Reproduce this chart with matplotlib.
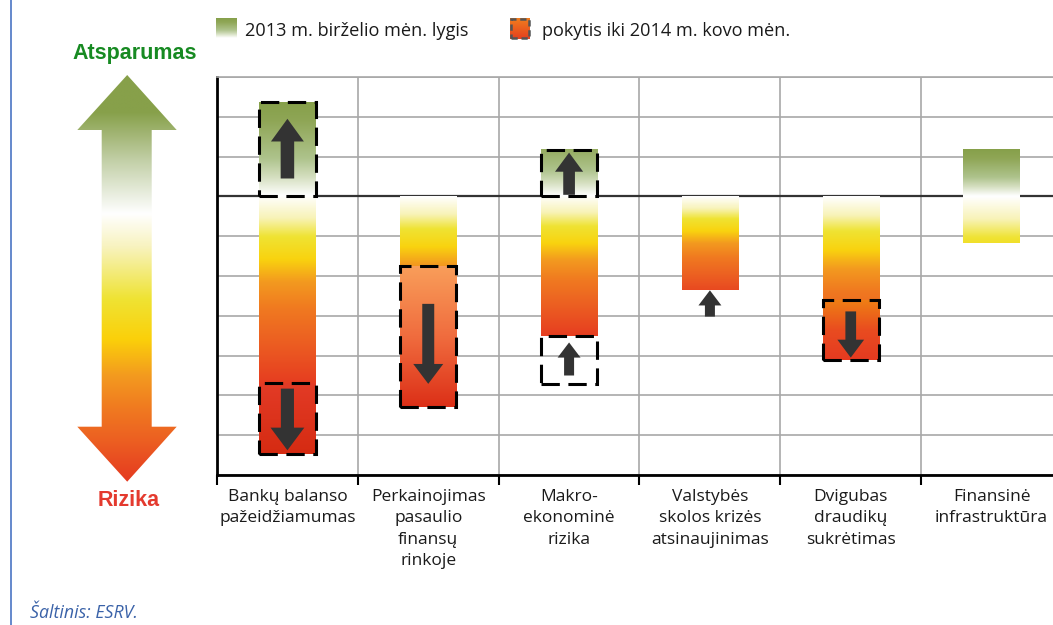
import numpy as np
import matplotlib
matplotlib.use("Agg")
import matplotlib.pyplot as plt
from matplotlib.colors import LinearSegmentedColormap
from matplotlib.patches import Rectangle, FancyArrow, Polygon
from matplotlib.lines import Line2D

# Categories and values (schematic units, 0 = neutral line)
categories = ["Bankų balanso\npažeidžiamumas",
              "Perkainojimas\npasaulio\nfinansų\nrinkoje",
              "Makro-\nekonominė\nrizika",
              "Valstybės\nskolos krizės\natsinaujinimas",
              "Dvigubas\ndraudikų\nsukrėtimas",
              "Finansinė\ninfrastruktūra"]

# 2013 m. birželio mėn. lygis
level_low = [-4.70, -1.75, -3.52, -2.35, -2.61, -1.17]
level_high = [0.0, 0.0, 0.0, 0.0, 0.0, 1.17]

# pokytis iki 2014 m. kovo mėn. (dashed boxes)
change_cat = [0, 0, 1, 2, 2, 4]
change_from = [0.0, -4.70, -1.75, 0.0, -3.52, -2.61]
change_to = [2.36, -6.46, -5.29, 1.17, -4.71, -4.10]

# direction arrows
arrow_cat = [0, 0, 1, 2, 2, 3, 4]
arrow_tail = [0.45, -4.83, -2.70, 0.04, -4.50, -3.02, -2.89]
arrow_tip = [1.95, -6.38, -4.71, 1.10, -3.67, -2.36, -4.05]

legend_labels = ["2013 m. birželio mėn. lygis", "pokytis iki 2014 m. kovo mėn."]

# ---- styles ----
W, H = 1053, 625
bar_w = 0.40
neg_cmap = LinearSegmentedColormap.from_list("neg", [
    (0.0, "#ffffff"), (0.12, "#f8f3b8"), (0.22, "#efe333"), (0.34, "#f9d30f"),
    (0.46, "#f39a1f"), (0.6, "#f07a20"), (0.78, "#ec5f22"), (1.0, "#e63d20")])
pos_cmap = LinearSegmentedColormap.from_list("pos", [
    (0.0, "#ffffff"), (0.2, "#d5dfc0"), (0.4, "#aec38c"), (0.8, "#8fa656"), (1.0, "#86a04a")])
# how far along the colour ramp each level bar goes at its bottom end
level_fade = [1.0, 0.47, 1.0, 0.92, 0.66, 0.25]
# fill of each change box: (cmap, value at top, value at bottom) or None
change_fill = [
    (pos_cmap, 1.0, 0.0),
    (LinearSegmentedColormap.from_list("c1", ["#e33b26", "#d52b12"]), 0.0, 1.0),
    (LinearSegmentedColormap.from_list("c2", ["#f99e5a", "#f06c3e", "#dc2f17"]), 0.0, 1.0),
    (pos_cmap, 0.72, 0.0),
    None,
    (LinearSegmentedColormap.from_list("c5", ["#ef7f14", "#e94c20", "#e53a20"]), 0.0, 1.0),
]
arrow_head_len = [0.57, 0.57, 0.50, 0.48, 0.38, 0.38, 0.45]
arrow_head_w = [0.234, 0.24, 0.213, 0.20, 0.163, 0.163, 0.19]
arrow_shaft_w = [0.096, 0.093, 0.085, 0.083, 0.071, 0.071, 0.076]

lab_font = ["Open Sans", "DejaVu Sans"]


def vgrad(ax, x0, x1, ybot, ytop, cmap, vbot, vtop, z):
    img = np.linspace(vbot, vtop, 256).reshape(-1, 1)
    return ax.imshow(img, extent=[x0, x1, ybot, ytop], origin="lower", cmap=cmap,
                     vmin=0, vmax=1, aspect="auto", interpolation="bilinear", zorder=z)


fig = plt.figure(figsize=(W / 100, H / 100), dpi=100)
ax = fig.add_axes([217 / W, 1 - 475 / H, 845 / W, 398 / H])

# level bars
for i, (lo, hi) in enumerate(zip(level_low, level_high)):
    x0, x1 = i + 0.5 - bar_w / 2, i + 0.5 + bar_w / 2
    vgrad(ax, x0, x1, lo, 0, neg_cmap, level_fade[i], 0.0, 2)
    if hi > 0:
        vgrad(ax, x0, x1, 0, hi, pos_cmap, 0.0, 1.0, 2)

# change boxes
for k, c in enumerate(change_cat):
    x0 = c + 0.5 - bar_w / 2
    top, bot = max(change_from[k], change_to[k]), min(change_from[k], change_to[k])
    if change_fill[k] is not None:
        cm, vt, vb = change_fill[k]
        vgrad(ax, x0, x0 + bar_w, bot, top, cm, vb, vt, 3)
    ax.add_patch(Rectangle((x0, bot), bar_w, top - bot, fill=False, ec="black",
                           lw=2.2, ls=(0, (6, 2.8)), zorder=4))

# arrows
for k, c in enumerate(arrow_cat):
    ax.add_patch(FancyArrow(c + 0.5, arrow_tail[k], 0, arrow_tip[k] - arrow_tail[k],
                            width=arrow_shaft_w[k], head_width=arrow_head_w[k],
                            head_length=arrow_head_len[k], length_includes_head=True,
                            color="#333333", lw=0, zorder=5))

ax.axhline(0, color="#333333", lw=1.6, zorder=1.5)
ax.set_xlim(0, 6)
ax.set_ylim(-7, 3)
ax.set_xticks(np.arange(7))
ax.set_xticklabels([])
ax.set_yticks(np.arange(-7, 4))
ax.set_yticklabels([])
ax.set_xticks(np.arange(6) + 0.5, minor=True)
ax.set_xticklabels(categories, minor=True, fontsize=12.5, family=lab_font,
                   color="#1a1a1a", linespacing=1.45)
ax.tick_params(axis="x", which="major", length=7, width=1.5, direction="out", color="black")
ax.tick_params(axis="x", which="minor", length=0, pad=10)
ax.tick_params(axis="y", length=0)
ax.grid(True, which="major", color="#a8a8a8", lw=1.2)
ax.set_axisbelow(True)
for s in ["left", "bottom"]:
    ax.spines[s].set_linewidth(2)
    ax.spines[s].set_color("black")
ax.spines["top"].set_color("#a8a8a8")
ax.spines["top"].set_linewidth(1.2)
ax.spines["right"].set_visible(False)

# big double arrow on the left
axl = fig.add_axes([60 / W, 1 - 500 / H, 140 / W, 440 / H])
axl.set_xlim(60, 200)
axl.set_ylim(500, 60)
axl.axis("off")
big_cmap = LinearSegmentedColormap.from_list("big", [
    (0.0, "#87a04a"), (0.09, "#87a04a"), (0.21, "#c3d0a8"), (0.34, "#ffffff"),
    (0.42, "#f8f3c0"), (0.55, "#efe333"), (0.65, "#fbd00a"), (0.74, "#f39a1f"),
    (0.82, "#f07a20"), (0.9, "#ec5f22"), (1.0, "#e53a20")])
img = np.linspace(0, 1, 256).reshape(-1, 1)
im = axl.imshow(img, extent=[77, 177, 482, 75], origin="upper", cmap=big_cmap,
                aspect="auto", interpolation="bilinear")
poly = Polygon([(127.2, 75), (176.7, 130), (151.7, 130), (151.7, 426.7), (176.7, 426.7),
                (127.2, 481.7), (77.3, 426.7), (101.7, 426.7), (101.7, 130), (77.3, 130)],
               closed=True, fc="none", ec="none")
axl.add_patch(poly)
im.set_clip_path(poly)

fig.text(135 / W, 1 - 54 / H, "Atsparumas", ha="center", va="center", color="#178a22",
         fontsize=15.5, fontweight="bold", family="Liberation Sans")
fig.text(128.5 / W, 1 - 501 / H, "Rizika", ha="center", va="center", color="#e43a2e",
         fontsize=15.5, fontweight="bold", family="Liberation Sans")

# legend
axg1 = fig.add_axes([216 / W, 1 - 38.3 / H, 20.5 / W, 20 / H])
axg1.imshow(np.linspace(0, 1, 64).reshape(-1, 1), cmap=pos_cmap, vmin=0, vmax=1,
            aspect="auto", origin="lower", extent=[0, 1, 0, 1])
axg1.axis("off")
axg2 = fig.add_axes([510 / W, 1 - 39 / H, 20 / W, 21 / H])
axg2.imshow(np.linspace(0, 1, 64).reshape(-1, 1),
            cmap=LinearSegmentedColormap.from_list("lg", ["#e5401f", "#f07d1e"]),
            aspect="auto", origin="lower", extent=[0, 1, 0, 1])
axg2.add_patch(Rectangle((0.03, 0.03), 0.94, 0.94, fill=False, ec="#555555", lw=1.8,
                         ls=(0, (2.5, 1.5)), transform=axg2.transAxes, clip_on=False))
axg2.set_xlim(0, 1)
axg2.set_ylim(0, 1)
axg2.axis("off")
fig.text(245 / W, 1 - 31 / H, legend_labels[0], ha="left", va="center", fontsize=13.1,
         family=lab_font, color="#1a1a1a")
fig.text(542 / W, 1 - 31 / H, legend_labels[1], ha="left", va="center", fontsize=13.1,
         family=lab_font, color="#1a1a1a")

fig.add_artist(Line2D([11 / W, 11 / W], [0, 1], color="#4a74c4", lw=1.2))
fig.text(30 / W, 1 - 613 / H, "Šaltinis: ESRV.", ha="left", va="center", fontsize=12.8,
         style="italic", family=lab_font, color="#3a62a8")

fig.savefig("out.png", dpi=100)
